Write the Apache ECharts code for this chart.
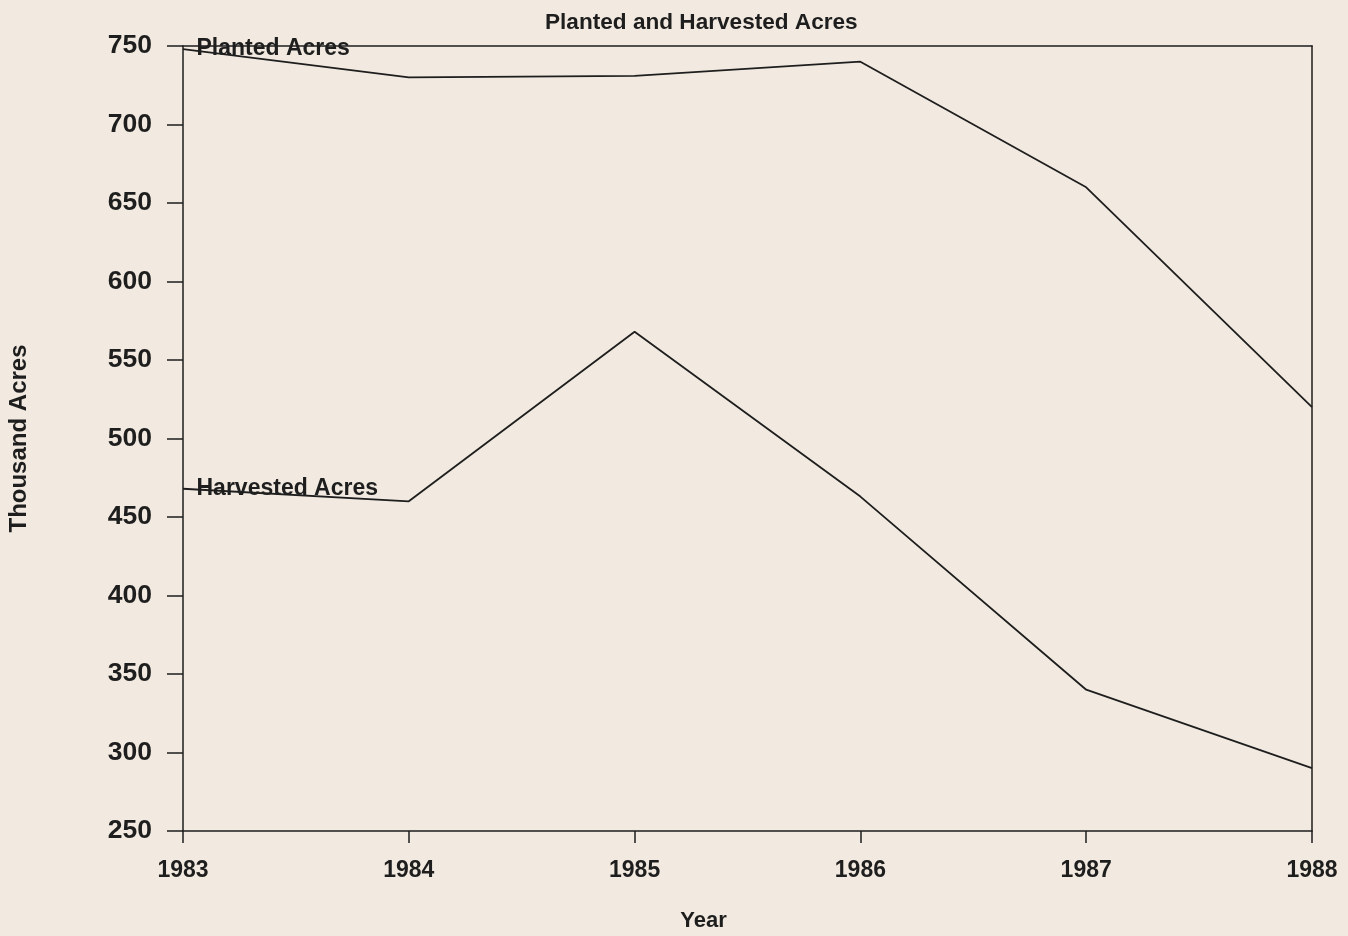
<!DOCTYPE html>
<html>
<head>
<meta charset="utf-8">
<title>Planted and Harvested Acres</title>
<script src="https://cdn.jsdelivr.net/npm/echarts@6/dist/echarts.min.js"></script>
<style>
  html, body { margin: 0; padding: 0; background: #f2eae0; }
  #chart { width: 1348px; height: 936px; }
</style>
</head>
<body>
<div id="chart"></div>
<script>
// 年份
var years = ['1983', '1984', '1985', '1986', '1987', '1988'];
// 种植面积（千英亩）
var planted = [748, 730, 731, 740, 660, 520];
// 收获面积（千英亩）
var harvested = [468, 460, 568, 463, 340, 290];
// 纵轴刻度
var yMin = 250;
var yMax = 750;
var yStep = 50;

var ink = '#1e1e1e';
var font = 'Liberation Sans, Arial, sans-serif';

var chart = echarts.init(document.getElementById('chart'));

// 只在第一个点上标出系列名
function firstLabel(arr, name) {
  return arr.map(function (v, i) {
    if (i !== 0) return v;
    return {
      value: v,
      label: {
        show: true,
        position: 'right',
        distance: 13,
        formatter: name,
        color: ink,
        fontFamily: font,
        fontWeight: 'bold',
        fontSize: 23
      }
    };
  });
}

var option = {
  backgroundColor: '#f2eae0',
  animation: false,
  title: {
    text: 'Planted and Harvested Acres',
    left: 540,
    top: 6,
    textStyle: { color: ink, fontFamily: font, fontWeight: 'bold', fontSize: 22.6 }
  },
  grid: { left: 183, right: 36, top: 46, bottom: 105, outerBoundsMode: 'none' },
  xAxis: [
    {
      type: 'category',
      data: years,
      boundaryGap: false,
      name: 'Year',
      nameLocation: 'middle',
      nameGap: 79,
      nameTextStyle: { color: ink, fontFamily: font, fontWeight: 'bold', fontSize: 22, padding: [0, 88, 0, 0] },
      axisLine: { lineStyle: { color: ink, width: 1.5 } },
      axisTick: { length: 12, lineStyle: { color: ink, width: 1.5 } },
      axisLabel: { color: ink, fontFamily: font, fontWeight: 'bold', fontSize: 23, margin: 28 },
      splitLine: { show: false }
    },
    {
      // 上边框
      type: 'category',
      data: years,
      boundaryGap: false,
      position: 'top',
      axisLine: { lineStyle: { color: ink, width: 1.5 } },
      axisTick: { show: false },
      axisLabel: { show: false },
      splitLine: { show: false }
    }
  ],
  yAxis: [
    {
      type: 'value',
      min: yMin,
      max: yMax,
      interval: yStep,
      name: 'Thousand Acres',
      nameLocation: 'middle',
      nameGap: 152,
      nameTextStyle: { color: ink, fontFamily: font, fontWeight: 'bold', fontSize: 24 },
      axisLine: { show: true, lineStyle: { color: ink, width: 1.5 } },
      axisTick: { show: true, length: 16, lineStyle: { color: ink, width: 1.5 } },
      axisLabel: { color: ink, fontFamily: font, fontWeight: 'bold', fontSize: 26.5, margin: 31 },
      splitLine: { show: false }
    },
    {
      // 右边框
      type: 'value',
      min: yMin,
      max: yMax,
      interval: yStep,
      position: 'right',
      axisLine: { show: true, lineStyle: { color: ink, width: 1.5 } },
      axisTick: { show: false },
      axisLabel: { show: false },
      splitLine: { show: false }
    }
  ],
  series: [
    {
      name: 'Planted Acres',
      type: 'line',
      data: firstLabel(planted, 'Planted Acres'),
      symbol: 'circle',
      symbolSize: 1,
      itemStyle: { color: 'rgba(0,0,0,0)' },
      lineStyle: { color: ink, width: 1.8 }
    },
    {
      name: 'Harvested Acres',
      type: 'line',
      data: firstLabel(harvested, 'Harvested Acres'),
      symbol: 'circle',
      symbolSize: 1,
      itemStyle: { color: 'rgba(0,0,0,0)' },
      lineStyle: { color: ink, width: 1.8 }
    }
  ]
};

chart.setOption(option);
</script>
</body>
</html>
